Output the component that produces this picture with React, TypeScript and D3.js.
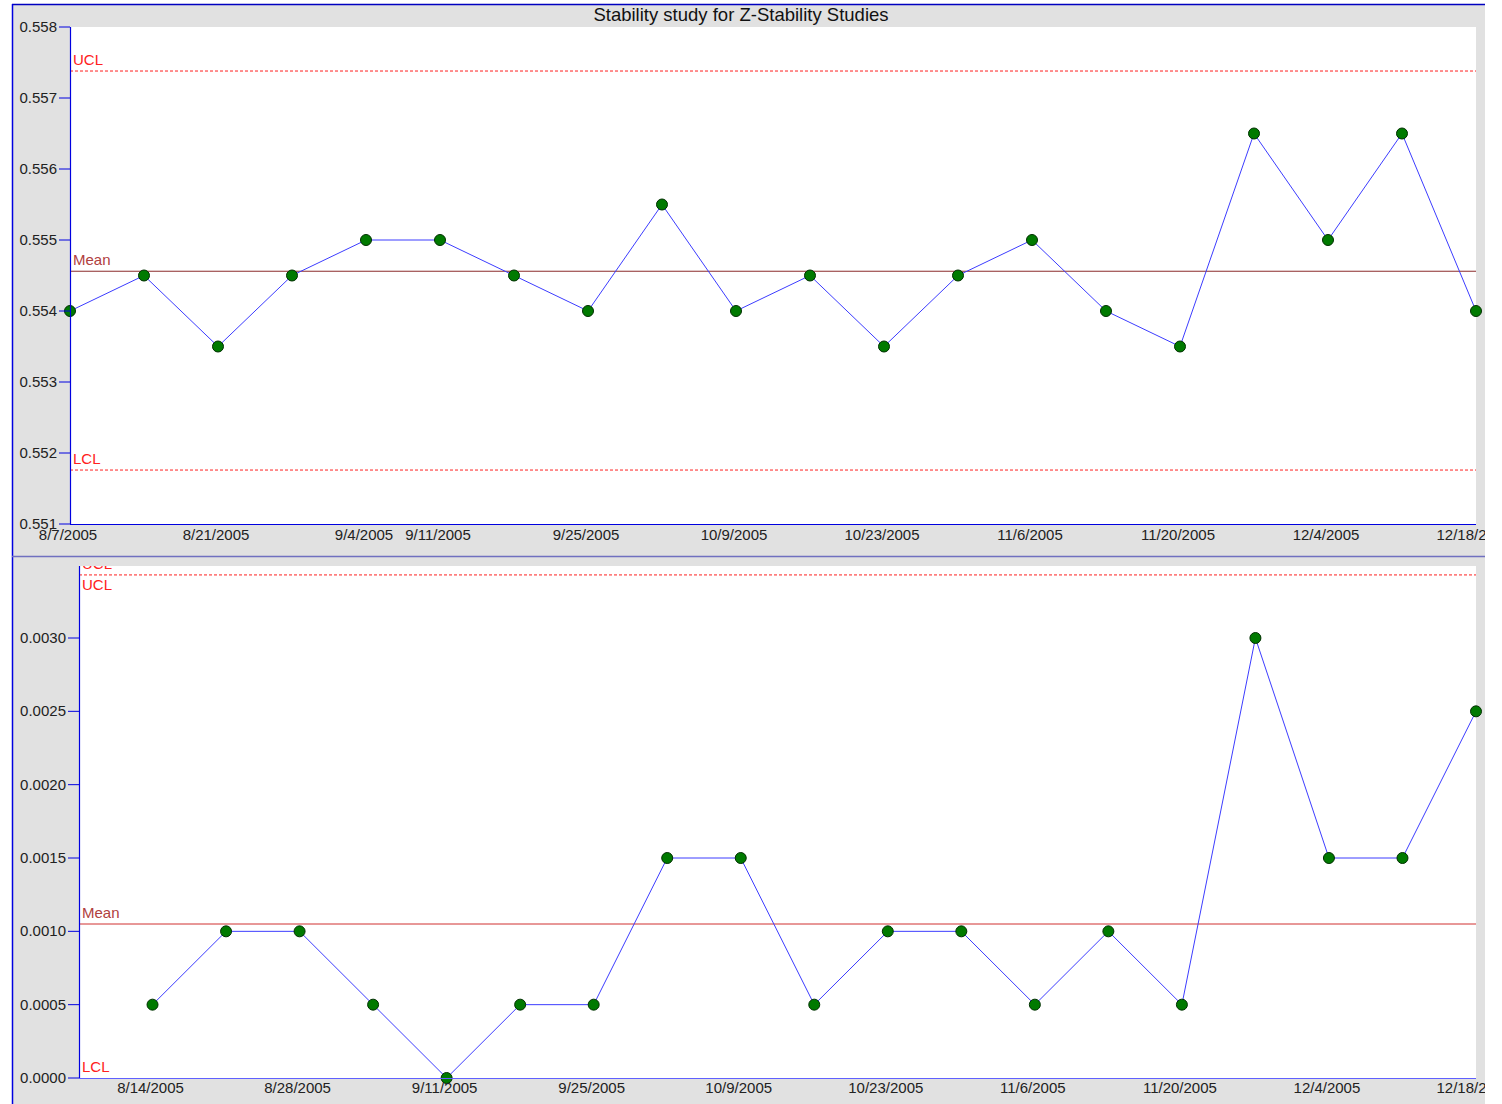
import React from "react";
import * as d3 from "d3";

const dates = ["2005-08-07","2005-08-14","2005-08-21","2005-08-28","2005-09-04","2005-09-11","2005-09-18","2005-09-25","2005-10-02","2005-10-09","2005-10-16","2005-10-23","2005-10-30","2005-11-06","2005-11-13","2005-11-20","2005-11-27","2005-12-04","2005-12-11","2005-12-18"];
const values = [0.554,0.5545,0.5535,0.5545,0.555,0.555,0.5545,0.554,0.5555,0.554,0.5545,0.5535,0.5545,0.555,0.554,0.5535,0.5565,0.555,0.5565,0.554];
const rangeDates = dates.slice(1);
const ranges = [0.0005,0.001,0.001,0.0005,0,0.0005,0.0005,0.0015,0.0015,0.0005,0.001,0.001,0.0005,0.001,0.0005,0.003,0.0015,0.0015,0.0025];
const topTicks = [0.551,0.552,0.553,0.554,0.555,0.556,0.557,0.558];
const botTicks = [0,0.0005,0.001,0.0015,0.002,0.0025,0.003];
const topDateLabels = ["2005-08-07","2005-08-21","2005-09-04","2005-09-11","2005-09-25","2005-10-09","2005-10-23","2005-11-06","2005-11-20","2005-12-04","2005-12-18"];
const botDateLabels = ["2005-08-14","2005-08-28","2005-09-11","2005-09-25","2005-10-09","2005-10-23","2005-11-06","2005-11-20","2005-12-04","2005-12-18"];
const topLimits = { ucl: 0.55738, mean: 0.55456, lcl: 0.55176 };
const botLimits = { ucl: 0.00343, mean: 0.00105, lcl: 0 };
const title = "Stability study for Z-Stability Studies";

const parse = d3.utcParse("%Y-%m-%d");
const fmtDate = (s: string) => { const d = parse(s)!; return `${d.getUTCMonth()+1}/${d.getUTCDate()}/${d.getUTCFullYear()}`; };
const FONT = "Arial, 'Liberation Sans', sans-serif";

export default function App() {
  const W = 1502, H = 1104;
  const right = 1476;
  const tx = d3.scaleUtc().domain([parse(dates[0])!, parse(dates[dates.length-1])!]).range([70, right]);
  const ty = d3.scaleLinear().domain([0.551, 0.558]).range([524, 27]);
  const bx = d3.scaleUtc().domain([parse(dates[0])!, parse(dates[dates.length-1])!]).range([79, right]);
  const by = d3.scaleLinear().domain([0, 0.0030]).range([1078, 638]);

  const topLine = d3.line<number>().x((_, i) => tx(parse(dates[i])!)).y(v => ty(v));
  const botLine = d3.line<number>().x((_, i) => bx(parse(rangeDates[i])!)).y(v => by(v));

  const labelColor = "#222";
  const axisBlue = "#0000e0";
  const fs = 15;

  return (
    <svg width={W} height={H} style={{ position: "absolute", left: 0, top: 0, fontFamily: FONT }}>
      <defs>
        <clipPath id="outer"><rect x={0} y={0} width={1485} height={H} /></clipPath>
        <clipPath id="topPlot"><rect x={70} y={27} width={right - 70} height={524 - 27} /></clipPath>
        <clipPath id="botPlot"><rect x={79} y={566} width={right - 79} height={1078 - 566} /></clipPath>
      </defs>
      <rect x={0} y={0} width={W} height={H} fill="#fff" />
      <g clipPath="url(#outer)">
        <rect x={12} y={4} width={1473} height={H - 4} fill="#e1e1e1" />
        <line x1={12} x2={1485} y1={4.5} y2={4.5} stroke="#0000c0" strokeWidth={1.5} />
        <line x1={12.5} x2={12.5} y1={4} y2={H} stroke="#0000e0" strokeWidth={1.5} />
        <line x1={12} x2={1485} y1={556.5} y2={556.5} stroke="#7070c0" strokeWidth={1.5} />

        <text x={741} y={21} textAnchor="middle" fontSize={18.5} fill="#111">{title}</text>

        {/* top plot */}
        <rect x={70} y={27} width={right - 70} height={524 - 27} fill="#fff" />
        <g clipPath="url(#topPlot)">
          <line x1={70} x2={right} y1={ty(topLimits.ucl)} y2={ty(topLimits.ucl)} stroke="#ff2020" strokeDasharray="3,2" strokeWidth={1} />
          <line x1={70} x2={right} y1={ty(topLimits.lcl)} y2={ty(topLimits.lcl)} stroke="#ff2020" strokeDasharray="3,2" strokeWidth={1} />
          <line x1={70} x2={right} y1={ty(topLimits.mean)} y2={ty(topLimits.mean)} stroke="#8b2a2a" strokeWidth={1} />
          <text x={73} y={ty(topLimits.ucl) - 6} fontSize={fs} fill="#ff2020">UCL</text>
          <text x={73} y={ty(topLimits.lcl) - 6} fontSize={fs} fill="#ff2020">LCL</text>
          <text x={73} y={ty(topLimits.mean) - 6} fontSize={fs} fill="#b04040">Mean</text>
        </g>
        <path d={topLine(values) ?? ""} fill="none" stroke="#3c3cff" strokeWidth={1} />
        {values.map((v, i) => (
          <circle key={i} cx={tx(parse(dates[i])!)} cy={ty(v)} r={5.5} fill="#007a00" stroke="#003000" strokeWidth={1} />
        ))}
        <line x1={70.5} x2={70.5} y1={27} y2={524} stroke={axisBlue} strokeWidth={1.2} />
        <line x1={70} x2={right} y1={524.5} y2={524.5} stroke={axisBlue} strokeWidth={1.2} />
        {topTicks.map(t => (
          <g key={t}>
            <line x1={59} x2={70} y1={ty(t)} y2={ty(t)} stroke={axisBlue} strokeWidth={1} />
            <text x={57} y={ty(t) + 5} textAnchor="end" fontSize={fs} fill={labelColor}>{t.toFixed(3)}</text>
          </g>
        ))}
        {topDateLabels.map(d => (
          <text key={d} x={tx(parse(d)!) - 2} y={540} textAnchor="middle" fontSize={fs} fill={labelColor}>{fmtDate(d)}</text>
        ))}

        {/* bottom plot */}
        <rect x={79} y={566} width={right - 79} height={1078 - 566} fill="#fff" />
        <g clipPath="url(#botPlot)">
          <line x1={79} x2={right} y1={by(botLimits.ucl)} y2={by(botLimits.ucl)} stroke="#ff2020" strokeDasharray="3,2" strokeWidth={1} />
          <line x1={79} x2={right} y1={by(botLimits.mean)} y2={by(botLimits.mean)} stroke="#d03030" strokeWidth={1} />
          <text x={82} y={by(botLimits.ucl) - 6} fontSize={fs} fill="#ff2020">UCL</text>
          <text x={82} y={by(botLimits.ucl) + 15} fontSize={fs} fill="#ff2020">UCL</text>
          <text x={82} y={by(botLimits.mean) - 6} fontSize={fs} fill="#b04040">Mean</text>
          <text x={82} y={by(botLimits.lcl) - 6} fontSize={fs} fill="#ff2020">LCL</text>
        </g>
        <path d={botLine(ranges) ?? ""} fill="none" stroke="#3c3cff" strokeWidth={1} />
        {ranges.map((v, i) => (
          <circle key={i} cx={bx(parse(rangeDates[i])!)} cy={by(v)} r={5.5} fill="#007a00" stroke="#003000" strokeWidth={1} />
        ))}
        <line x1={79.5} x2={79.5} y1={566} y2={1078} stroke={axisBlue} strokeWidth={1.2} />
        <line x1={79} x2={right} y1={1078.5} y2={1078.5} stroke="#6060ff" strokeWidth={1.2} />
        {botTicks.map(t => (
          <g key={t}>
            <line x1={68} x2={79} y1={by(t)} y2={by(t)} stroke={axisBlue} strokeWidth={1} />
            <text x={66} y={by(t) + 5} textAnchor="end" fontSize={fs} fill={labelColor}>{t.toFixed(4)}</text>
          </g>
        ))}
        {botDateLabels.map(d => (
          <text key={d} x={bx(parse(d)!) - 2} y={1093} textAnchor="middle" fontSize={fs} fill={labelColor}>{fmtDate(d)}</text>
        ))}
      </g>
    </svg>
  );
}
